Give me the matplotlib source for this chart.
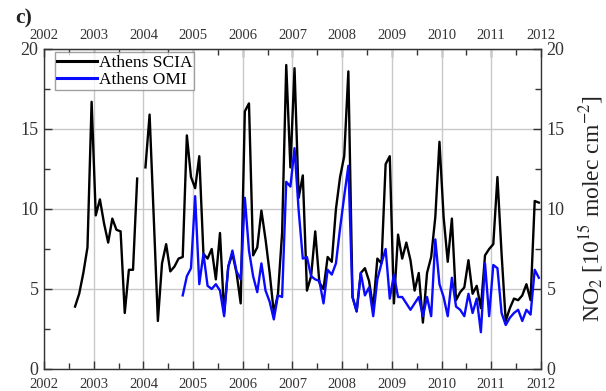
import numpy as np
import matplotlib
matplotlib.use("Agg")
import matplotlib.pyplot as plt
from matplotlib.ticker import MultipleLocator

plt.rcParams['font.family'] = ['Liberation Serif', 'DejaVu Serif']
plt.rcParams['mathtext.fontset'] = 'stix'

# monthly NO2 columns (10^15 molec cm^-2)
scia_start = (2002, 8)
scia_values = [
    3.9, 4.7, 6.0, 7.6, 16.7,                                        # 2002
    9.6, 10.6, 9.1, 7.9, 9.4, 8.7, 8.6, 3.5, 6.2, 6.2, 11.9, np.nan,  # 2003
    12.6, 15.9, 9.5, 3.0, 6.6, 7.8, 6.1, 6.4, 6.9, 7.0, 14.6, 12.0,   # 2004
    11.3, 13.3, 7.2, 6.9, 7.5, 5.6, 8.5, 3.5, 6.4, 7.2, 6.0, 4.1,     # 2005
    16.1, 16.6, 7.1, 7.6, 9.9, 8.1, 6.0, 3.5, 4.7, 8.5, 19.0, 12.6,   # 2006
    18.8, 10.7, 12.1, 4.9, 5.8, 8.6, 5.4, 5.0, 7.0, 6.7, 10.0, 12.0,  # 2007
    13.3, 18.6, 4.5, 3.6, 6.0, 6.3, 5.5, 3.8, 6.9, 6.6, 12.8, 13.3,   # 2008
    4.1, 8.4, 6.9, 7.9, 6.8, 4.9, 6.0, 2.9, 6.0, 7.0, 9.5, 14.2,      # 2009
    9.5, 6.7, 9.4, 4.3, 4.8, 5.1, 6.8, 4.7, 5.2, 3.8, 7.1, 7.5,       # 2010
    7.8, 12.0, 7.2, 3.0, 3.8, 4.4, 4.3, 4.6, 5.3, 4.3, 10.5, 10.4,    # 2011
]

omi_start = (2004, 10)
omi_values = [
    4.6, 5.8, 6.3,                                                    # 2004
    10.8, 5.3, 7.2, 5.2, 5.0, 5.3, 4.9, 3.3, 6.4, 7.4, 6.1, 5.6,      # 2005
    10.7, 7.4, 5.8, 4.8, 6.6, 4.9, 4.2, 3.1, 4.6, 4.5, 11.7, 11.4,    # 2006
    13.8, 9.9, 6.9, 7.0, 5.8, 5.6, 5.5, 4.1, 6.2, 5.9, 6.6, 8.8,      # 2007
    10.8, 12.7, 4.5, 3.6, 6.0, 4.6, 5.1, 3.3, 5.6, 6.6, 7.5, 4.4,     # 2008
    5.9, 4.5, 4.5, 4.1, 3.7, 4.1, 4.5, 3.3, 4.5, 3.3, 8.1, 5.3,       # 2009
    4.5, 3.3, 5.7, 3.9, 3.7, 3.3, 4.7, 3.5, 4.4, 2.3, 6.6, 3.3,       # 2010
    6.5, 6.3, 3.5, 2.75, 3.2, 3.5, 3.7, 3.0, 3.7, 3.4, 6.2, 5.7,      # 2011
]

years = list(range(2002, 2013))


def decimal_time(start, n):
    y, m = start
    k = np.arange(n) + (m - 1)
    return y + (k + 0.5) / 12.0


t_scia = decimal_time(scia_start, len(scia_values))
t_omi = decimal_time(omi_start, len(omi_values))

fig = plt.figure(figsize=(6.06, 3.91), dpi=100)
ax = fig.add_axes([0.0726, 0.0563, 0.82, 0.8184])

ax.plot(t_scia, scia_values, color='black', lw=1.7, label='Athens SCIA')
ax.plot(t_omi, omi_values, color='#0a0aff', lw=1.7, label='Athens OMI')

ax.set_xlim(2002, 2012)
ax.set_ylim(0, 20)
ax.set_xticks(years)
ax.xaxis.set_minor_locator(MultipleLocator(0.5))
ax.yaxis.set_major_locator(MultipleLocator(5))
ax.yaxis.set_minor_locator(MultipleLocator(2.5))
ax.grid(True, which='major', color='#c8c8c8', lw=1.0)
ax.set_axisbelow(True)

tick_col = '#333333'
ax.tick_params(which='both', direction='in', top=False, right=True,
               labelright=True, color=tick_col, labelcolor=tick_col)
ax.tick_params(which='major', length=6, width=1)
ax.tick_params(which='minor', length=4, width=1)
ax.tick_params(axis='y', labelsize=13, pad=4)
ax.tick_params(axis='x', labelsize=10.5, pad=6.5)

# top year axis
top = ax.secondary_xaxis('top')
top.set_xticks(years)
top.xaxis.set_minor_locator(MultipleLocator(0.5))
top.tick_params(which='both', direction='in', color=tick_col,
                labelcolor=tick_col, labelsize=10.5, pad=5)
top.tick_params(which='major', length=6, width=1)
top.tick_params(which='minor', length=4, width=1)
top.spines['top'].set_color(tick_col)

for sp in ax.spines.values():
    sp.set_color(tick_col)
    sp.set_linewidth(1.0)

ax.yaxis.set_label_position('right')
ax.set_ylabel(r'NO$_2$ [10$^{15}$ molec cm$^{-2}$]', fontsize=17,
              color='#222222', labelpad=8)

leg = ax.legend(loc='upper left', bbox_to_anchor=(0.015, 1.0), fontsize=12.5,
                frameon=True, fancybox=False, edgecolor='#888888',
                handlelength=2.3, handletextpad=0.1, borderpad=0.12,
                labelspacing=0.05, borderaxespad=0.2)
leg.get_frame().set_linewidth(1.0)
for ln in leg.get_lines():
    ln.set_linewidth(2.2)

fig.text(0.025, 0.94, 'c)', fontsize=15.5, fontweight='bold', color='#222222')

fig.savefig('out.png', dpi=100)
